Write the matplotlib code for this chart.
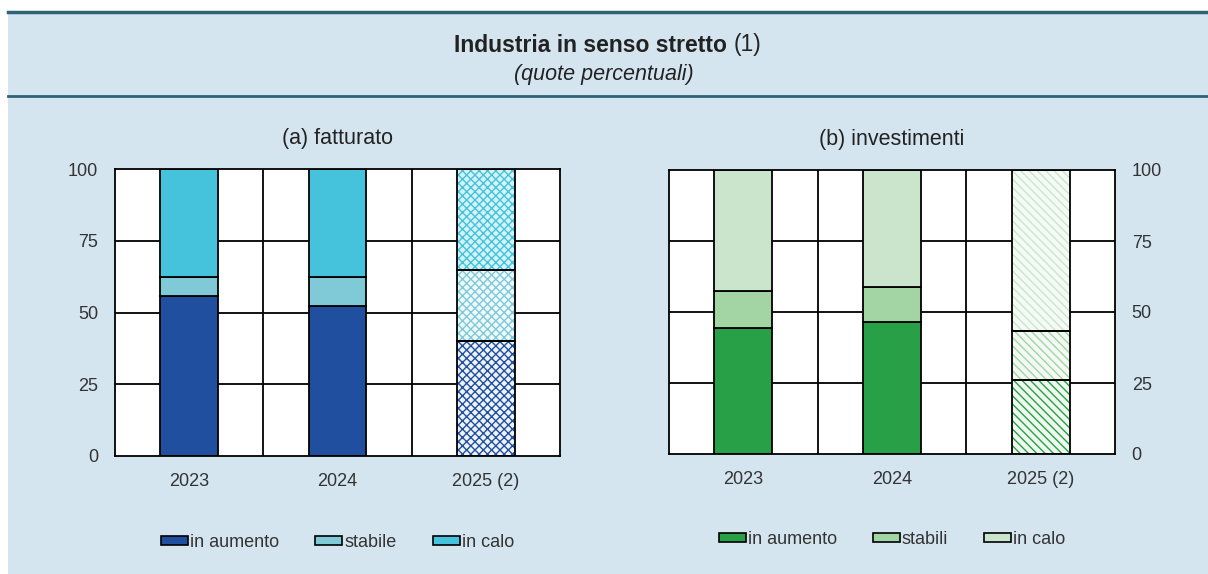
import numpy as np
import matplotlib
matplotlib.use("Agg")
import matplotlib.pyplot as plt
from matplotlib.patches import Rectangle, Patch
from matplotlib.lines import Line2D

plt.rcParams['font.family'] = ['Liberation Sans', 'DejaVu Sans']
plt.rcParams['hatch.linewidth'] = 1.0

# data (quote percentuali)
years = ['2023', '2024', '2025 (2)']

fatt_series = ['in aumento', 'stabile', 'in calo']
fatt_aumento = [55.7, 52.3, 40.2]
fatt_stabile = [6.8, 10.2, 24.6]
fatt_calo = [37.5, 37.5, 35.2]

inv_series = ['in aumento', 'stabili', 'in calo']
inv_aumento = [44.3, 46.4, 26.1]
inv_stabili = [13.2, 12.5, 17.3]
inv_calo = [42.5, 41.1, 56.6]

blues = ['#1f4f9e', '#7fcad6', '#45c2dc']
blues_light = ['#eef3fb', '#eefafb', '#d4f3f8']
greens = ['#27a047', '#a3d4a4', '#cbe5cc']
greens_light = ['#eef8ef', '#f3faf3', '#f4faf4']

bg = '#d5e5ef'
line_col = '#2d6375'

fig = plt.figure(figsize=(12.08, 5.74), dpi=100)
fig.patch.set_facecolor('white')
fig.patches.append(Rectangle((8 / 1208, 0), 1, 1 - 12 / 574, transform=fig.transFigure,
                             facecolor=bg, edgecolor='none', zorder=-10))
fig.add_artist(Line2D([8 / 1208, 1], [1 - 12 / 574] * 2, color=line_col, lw=2.5))
fig.add_artist(Line2D([8 / 1208, 1], [1 - 96 / 574] * 2, color=line_col, lw=2))

# title: bold part + regular "(1)"
t1 = fig.text(0.5, 1 - 45 / 574, 'Industria in senso stretto ', fontsize=16.5,
              fontweight='bold', ha='center', va='center', color='#222222')
t2 = fig.text(0.5, 1 - 45 / 574, '(1)', fontsize=16.5, ha='left', va='center', color='#222222')
r = fig.canvas.get_renderer()
w1 = t1.get_window_extent(r).width
w2 = t2.get_window_extent(r).width
tot = (w1 + w2) / fig.bbox.width
t1.set_ha('left')
t1.set_x(0.5 - tot / 2 + 0.003)
t2.set_x(0.5 - tot / 2 + 0.003 + w1 / fig.bbox.width)
fig.text(0.5, 1 - 74 / 574, '(quote percentuali)', fontsize=15.5, style='italic',
         ha='center', va='center', color='#222222')


def panel(ax, title, series, vals, cols, lights, hatch):
    x = np.arange(len(years))
    w = 0.39
    ax.set_facecolor('white')
    ax.set_xlim(-0.5, 2.5)
    ax.set_ylim(0, 100)
    for yy in [25, 50, 75]:
        ax.axhline(yy, color='black', lw=1.3, zorder=1)
    for xx in [0.5, 1.5]:
        ax.axvline(xx, color='black', lw=1.3, zorder=1)
    bottom = np.zeros(len(years))
    for i, (name, v) in enumerate(zip(series, vals)):
        v = np.array(v)
        # solid bars for 2023, 2024
        ax.bar(x[:2], v[:2], w, bottom=bottom[:2], color=cols[i], edgecolor='black',
               lw=1.3, zorder=3)
        # hatched bar for the forecast
        ax.bar(x[2:], v[2:], w, bottom=bottom[2:], facecolor=lights[i], edgecolor=cols[i],
               hatch=hatch, lw=0, zorder=3)
        ax.bar(x[2:], v[2:], w, bottom=bottom[2:], facecolor='none', edgecolor='black',
               lw=1.3, zorder=4)
        bottom += v
    for s in ax.spines.values():
        s.set_color('black')
        s.set_linewidth(1.3)
        s.set_zorder(5)
    ax.set_xticks(x)
    ax.set_xticklabels(years)
    ax.set_yticks([0, 25, 50, 75, 100])
    ax.tick_params(length=0, labelsize=13, labelcolor='#333333', pad=12)
    ax.tick_params(axis='x', pad=12)
    ax.set_title(title, fontsize=15.5, color='#222222', pad=18)
    handles = [Patch(facecolor=c, edgecolor='black', lw=1.2) for c in cols]
    ax.legend(handles, series, loc='upper center', bbox_to_anchor=(0.5, -0.215), ncol=3,
              frameon=False, fontsize=13, handlelength=1.5, handleheight=0.4,
              handletextpad=0.1, columnspacing=2.0, labelcolor='#333333')


ax1 = fig.add_axes([115 / 1208, 1 - 456 / 574, 445 / 1208, 287 / 574])
panel(ax1, '(a) fatturato', fatt_series, [fatt_aumento, fatt_stabile, fatt_calo],
      blues, blues_light, 'xxxx')

ax2 = fig.add_axes([669 / 1208, 1 - 454 / 574, 446 / 1208, 284 / 574])
panel(ax2, '(b) investimenti', inv_series, [inv_aumento, inv_stabili, inv_calo],
      greens, greens_light, '\\\\\\\\')
ax2.yaxis.tick_right()
ax2.tick_params(axis='y', pad=12)

fig.savefig('out.png', dpi=100, facecolor=fig.get_facecolor())
